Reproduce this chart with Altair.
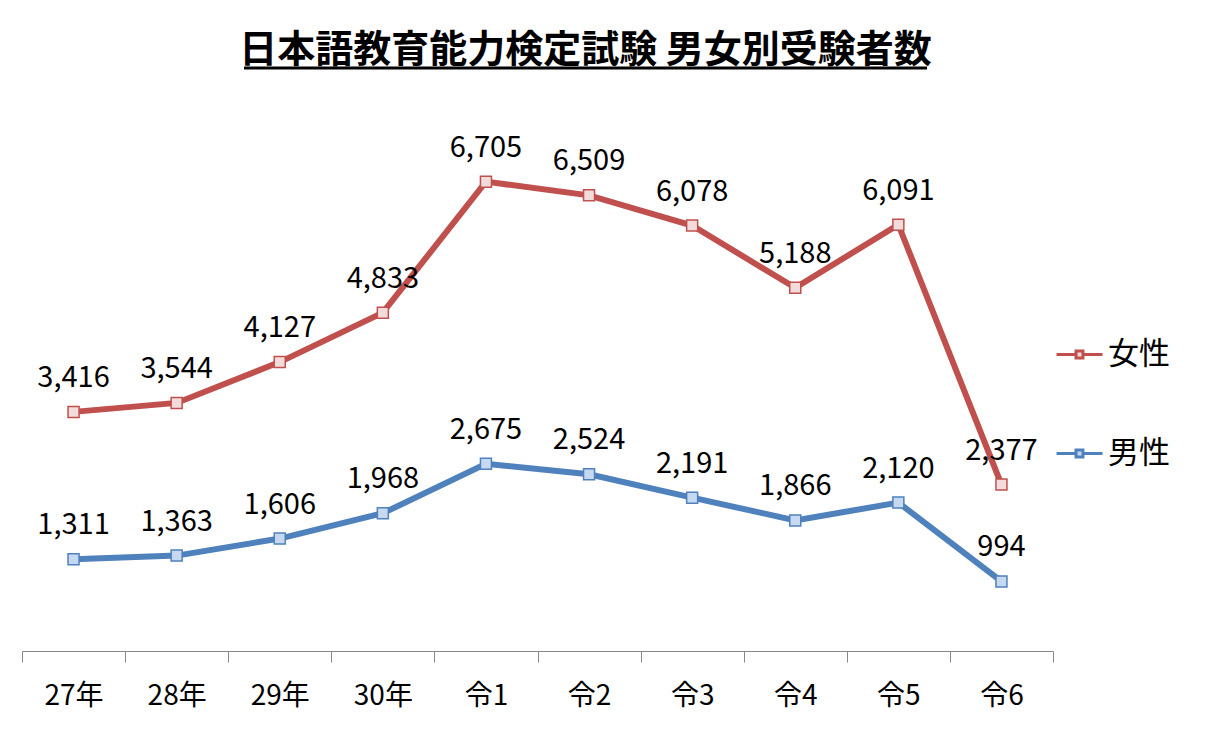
import pandas as pd
import altair as alt

years = ["27年", "28年", "29年", "30年", "令1", "令2", "令3", "令4", "令5", "令6"]
female = [3416, 3544, 4127, 4833, 6705, 6509, 6078, 5188, 6091, 2377]
male = [1311, 1363, 1606, 1968, 2675, 2524, 2191, 1866, 2120, 994]
series = ["女性", "男性"]

df = pd.DataFrame({
    "year": years * 2,
    "sex": [series[0]] * len(years) + [series[1]] * len(years),
    "count": female + male,
})

FONT = "Noto Sans CJK JP"
line_scale = alt.Scale(domain=series, range=["#C0504D", "#4F81BD"])
fill_scale = alt.Scale(domain=series, range=["#F2DCDB", "#C6D9F1"])

# line + small square, like the spreadsheet legend
legend_path = "M-1,0H-0.15M0.15,0H1M-0.15,-0.15H0.15V0.15H-0.15Z"
legend = alt.Legend(
    title=None, orient="none", legendX=1033, legendY=239, padding=0,
    symbolType=legend_path, symbolSize=2116, symbolStrokeWidth=3,
    labelFont=FONT, labelFontSize=31, labelColor="black",
    labelOffset=4, rowPadding=59,
)

x = alt.X(
    "year:N", sort=years, title=None, bandPosition=0.5,
    scale=alt.Scale(type="band", paddingInner=0, paddingOuter=0),
    axis=alt.Axis(
        tickBand="extent", domainColor="#888888", tickColor="#888888",
        tickSize=11, labelPadding=20, labelFont=FONT, labelFontSize=28,
        labelColor="black", labelAngle=0, grid=False,
    ),
)
y = alt.Y("count:Q", scale=alt.Scale(domain=[0, 8000]), axis=None)

base = alt.Chart(df).encode(x=x, y=y)

lines = base.mark_line(strokeWidth=6).encode(
    color=alt.Color("sex:N", scale=line_scale, legend=None),
    detail="sex:N",
)

points = base.mark_point(shape="square", filled=True, size=121, strokeWidth=1.5, opacity=1).encode(
    stroke=alt.Stroke("sex:N", scale=line_scale, legend=legend),
    fill=alt.Fill("sex:N", scale=fill_scale, legend=legend),
)

labels = base.mark_text(dy=-34, font=FONT, fontSize=29, color="black").encode(
    text=alt.Text("count:Q", format=","),
)

underline = alt.Chart(pd.DataFrame({"a": [0]})).mark_rule(color="black", strokeWidth=3).encode(
    x=alt.value(222), x2=alt.value(905), y=alt.value(-23),
)

chart = (
    alt.layer(lines, points, labels, underline)
    .resolve_scale(color="independent", stroke="independent", fill="independent")
    .properties(
        width=1031, height=560,
        background="white",
        autosize=alt.AutoSizeParams(type="none"),
        padding={"left": 14, "top": 83, "right": 161, "bottom": 72},
        title=alt.TitleParams(
            "日本語教育能力検定試験 男女別受験者数", font=FONT, fontSize=38,
            fontWeight="bold", color="black", anchor="middle", dx=48, dy=30, offset=27,
        ),
    )
    .configure_view(stroke=None)
)

chart.save("out.html", embed_options={"renderer": "svg", "actions": False})
